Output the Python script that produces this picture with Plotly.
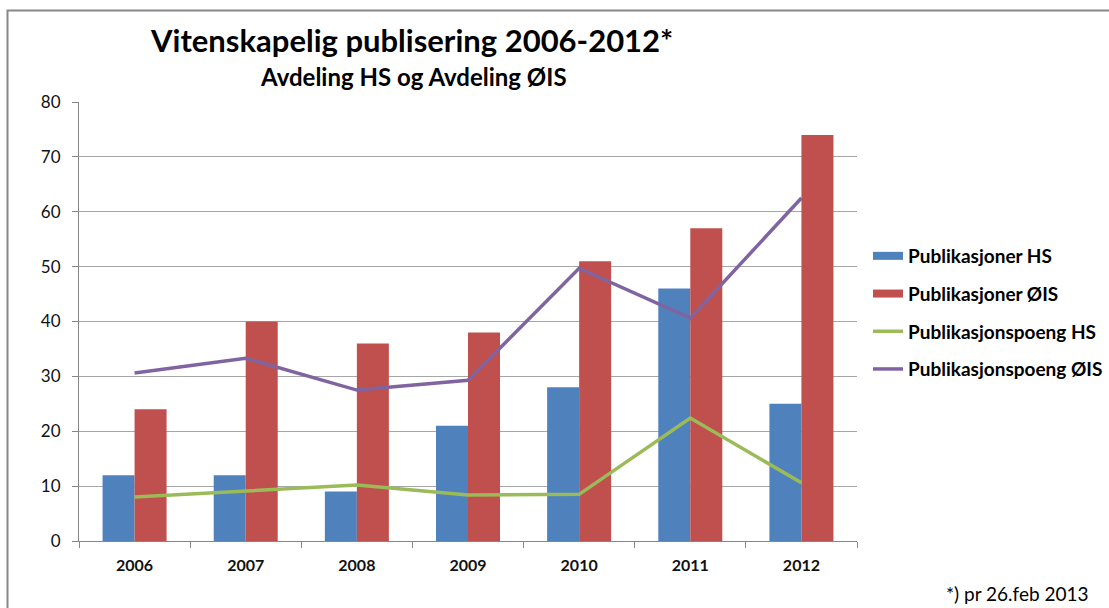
import plotly.graph_objects as go

years = ["2006", "2007", "2008", "2009", "2010", "2011", "2012"]
publ_hs = [12, 12, 9, 21, 28, 46, 25]
publ_ois = [24, 40, 36, 38, 51, 57, 74]
poeng_hs = [8.0, 9.1, 10.2, 8.4, 8.5, 22.4, 10.6]
poeng_ois = [30.6, 33.3, 27.5, 29.3, 49.7, 40.6, 62.5]

series_names = ["Publikasjoner HS", "Publikasjoner ØIS", "Publikasjonspoeng HS", "Publikasjonspoeng ØIS"]
colors = ["#4F81BD", "#C0504D", "#9BBB59", "#8064A2"]

W, H = 1109, 608
L, R, T, B = 79, 857, 102, 541
FONT = "Lato"

fig = go.Figure()
fig.add_trace(go.Bar(x=years, y=publ_hs, name=series_names[0], showlegend=False,
                     marker=dict(color=colors[0], line=dict(width=0))))
fig.add_trace(go.Bar(x=years, y=publ_ois, name=series_names[1], showlegend=False,
                     marker=dict(color=colors[1], line=dict(width=0))))
fig.add_trace(go.Scatter(x=years, y=poeng_hs, name=series_names[2], mode="lines", showlegend=False,
                         line=dict(color=colors[2], width=3.5)))
fig.add_trace(go.Scatter(x=years, y=poeng_ois, name=series_names[3], mode="lines", showlegend=False,
                         line=dict(color=colors[3], width=3.5)))

# legend entries (bar series shown as thick swatches like the original)
legend_widths = [8, 8, 3.5, 3.5]
for i, (nm, c, lw) in enumerate(zip(series_names, colors, legend_widths)):
    fig.add_trace(go.Scatter(x=[None], y=[None], mode="lines", name="<b>%s</b>" % nm,
                             line=dict(color=c, width=lw), legendgroup="g%d" % i,
                             showlegend=True, hoverinfo="skip"))

pw = R - L
ph = B - T


def px_x(p):
    return (p - L) / pw


def px_y(p):
    return (B - p) / ph


fig.update_layout(
    width=W, height=H,
    margin=dict(l=L, r=W - R, t=T, b=H - B, autoexpand=False),
    paper_bgcolor="white", plot_bgcolor="white",
    barmode="group", bargap=0.424, bargroupgap=0,
    font=dict(family=FONT, size=15, color="#111"),
    showlegend=True,
    legend=dict(x=px_x(868), y=px_y(237), xanchor="left", yanchor="top",
                traceorder="grouped", tracegroupgap=10,
                font=dict(family=FONT, size=19, color="#000"),
                bgcolor="rgba(0,0,0,0)", itemwidth=30),
    xaxis=dict(type="category", showgrid=False, showline=True, linecolor="#868686", linewidth=1,
               ticks="outside", tickson="boundaries", ticklen=6, tickcolor="#868686",
               ticklabelstandoff=10,
               tickfont=dict(family=FONT, size=16, color="#111"),
               tickvals=years, ticktext=["<b>%s</b>" % y for y in years]),
    yaxis=dict(range=[0, 80], dtick=10, showgrid=True, gridcolor="#A6A6A6", gridwidth=1,
               showline=True, linecolor="#868686", linewidth=1, zeroline=False,
               ticks="outside", ticklen=6, tickcolor="#868686",
               ticklabelstandoff=8,
               tickfont=dict(family=FONT, size=17, color="#111")),
    shapes=[dict(type="rect", xref="paper", yref="paper",
                 x0=px_x(7.5), x1=px_x(1200), y0=px_y(700), y1=px_y(10.5),
                 line=dict(color="#878787", width=2), fillcolor="rgba(0,0,0,0)")],
    annotations=[
        dict(text="<b>Vitenskapelig publisering 2006-2012*</b>", xref="paper", yref="paper",
             x=px_x(411), y=px_y(40), xanchor="center", yanchor="middle", showarrow=False,
             font=dict(family=FONT, size=31, color="#000")),
        dict(text="<b>Avdeling HS og Avdeling ØIS</b>", xref="paper", yref="paper",
             x=px_x(413), y=px_y(77), xanchor="center", yanchor="middle", showarrow=False,
             font=dict(family=FONT, size=24, color="#000")),
        dict(text="*) pr 26.feb 2013", xref="paper", yref="paper",
             x=px_x(1091), y=px_y(593), xanchor="right", yanchor="middle", showarrow=False,
             font=dict(family=FONT, size=19, color="#000")),
    ],
)

fig.write_html("out.html")
